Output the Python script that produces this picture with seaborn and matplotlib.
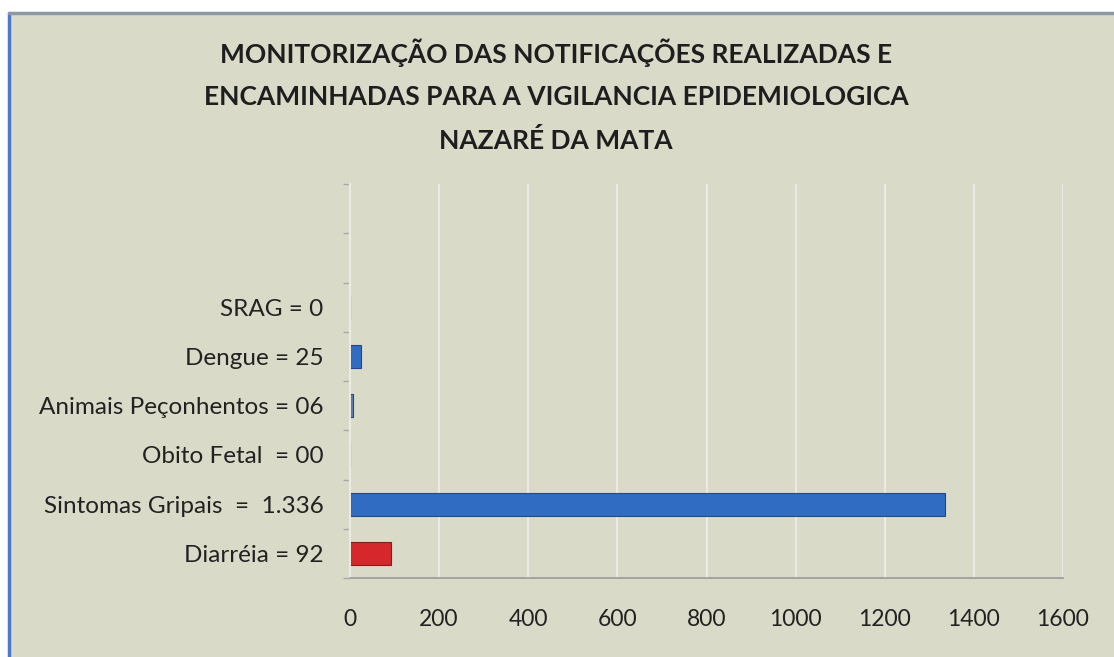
import numpy as np
import pandas as pd
import seaborn as sns
import matplotlib.pyplot as plt
from matplotlib.patches import Rectangle
from matplotlib.ticker import FixedLocator

# categories from top to bottom (two empty slots on top, as in the original chart)
categories = ["", " ", "SRAG = 0", "Dengue = 25", "Animais Peçonhentos = 06",
              "Obito Fetal  = 00", "Sintomas Gripais  =  1.336", "Diarréia = 92"]
values = [np.nan, np.nan, 0, 25, 6, 0, 1336, 92]
bar_colors = ["#2f6cc2", "#2f6cc2", "#2f6cc2", "#2f6cc2", "#5f7ea8",
              "#2f6cc2", "#2f6cc2", "#d6282b"]
x_ticks = [0, 200, 400, 600, 800, 1000, 1200, 1400, 1600]
title = ("MONITORIZAÇÃO DAS NOTIFICAÇÕES REALIZADAS E\n"
         "ENCAMINHADAS PARA A VIGILANCIA EPIDEMIOLOGICA\n"
         "NAZARÉ DA MATA")

bg = "#d9dac8"

sns.set_theme(style="white")
plt.rcParams["font.family"] = ["Lato", "DejaVu Sans"]

df = pd.DataFrame({"label": categories, "value": values})

fig = plt.figure(figsize=(11.14, 6.57), dpi=100, facecolor=bg)
# white strips above and left of the panel, with the blue / grey frame lines
fig.patches.append(Rectangle((0, 1 - 13 / 657), 1, 13 / 657,
                             transform=fig.transFigure, facecolor="white",
                             edgecolor="none", zorder=-1))
fig.patches.append(Rectangle((0, 0), 9 / 1114, 1,
                             transform=fig.transFigure, facecolor="white",
                             edgecolor="none", zorder=-1))
fig.add_artist(plt.Line2D([9 / 1114, 9 / 1114], [0, 1 - 13 / 657],
                          color="#4f78cc", lw=2.5, transform=fig.transFigure))
fig.add_artist(plt.Line2D([9 / 1114, 1], [1 - 13 / 657, 1 - 13 / 657],
                          color="#8c98a4", lw=2.5, transform=fig.transFigure))

ax = fig.add_axes([350 / 1114, 1 - 578 / 657, (1063 - 350) / 1114, (578 - 184) / 657])
ax.set_facecolor(bg)

sns.barplot(data=df, y="label", x="value", hue="label", order=categories,
            palette=dict(zip(categories, bar_colors)), legend=False,
            saturation=1, orient="h", width=0.47, edgecolor="#1f4a8a",
            linewidth=0.8, ax=ax)
for p in ax.patches:
    if p.get_facecolor()[0] > 0.7:
        p.set_edgecolor("#8a1a1a")

ax.set_xlim(0, 1600)
ax.set_ylim(7.5, -0.5)
ax.set_xticks(x_ticks)
ax.set_xticklabels([str(t) for t in x_ticks], fontsize=16.5, color="#222222")
ax.tick_params(axis="x", length=5, width=1, color="#9a9a9a", pad=17)
ax.tick_params(axis="y", which="major", length=0, pad=19, labelsize=17.5,
               labelcolor="#222222")
ax.yaxis.set_minor_locator(FixedLocator(np.arange(-0.5, 8, 1)))
ax.tick_params(axis="y", which="minor", left=True, length=5, width=1,
               color="#a8a8a8")
ax.set_xlabel("")
ax.set_ylabel("")

ax.grid(axis="x", color="#ececE4", lw=1.4)
ax.set_axisbelow(True)
for s in ["top", "right"]:
    ax.spines[s].set_visible(False)
ax.spines["left"].set_color("#ececE4")
ax.spines["left"].set_linewidth(1.4)
ax.spines["bottom"].set_color("#9a9a9a")
ax.spines["bottom"].set_linewidth(1.2)

fig.text(556 / 1114, 1 - 96 / 657, title, ha="center", va="center",
         fontsize=19, fontweight="bold", color="#1e1e1e", linespacing=1.9)

fig.savefig("out.png", dpi=100, facecolor=bg)
